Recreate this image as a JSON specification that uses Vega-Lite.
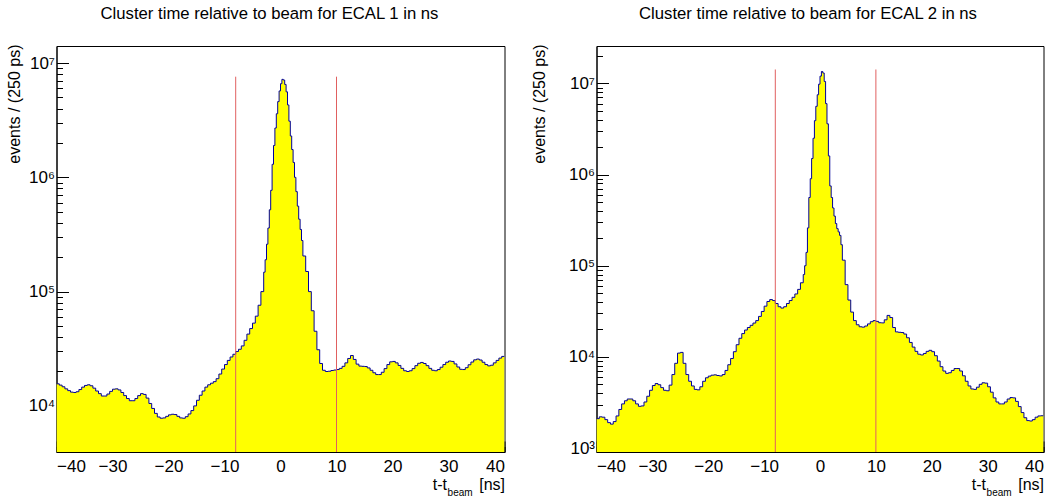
{
  "$schema": "https://vega.github.io/schema/vega-lite/v6.json",
  "background": "white",
  "padding": {"left": 4.5, "top": 5, "right": 2, "bottom": 2},
  "bounds": "flush",
  "spacing": 92,
  "config": {
    "font": "Liberation Sans",
    "view": {"stroke": "#000000", "strokeWidth": 1},
    "axis": {"domainColor": "#000000", "tickColor": "#000000", "labelColor": "#000000", "titleColor": "#000000", "grid": false, "labelFont": "Liberation Sans", "titleFont": "Liberation Sans", "titleFontWeight": "normal", "labelFontSize": 17, "titleFontSize": 16},
    "title": {"font": "Liberation Sans", "fontSize": 16.7, "fontWeight": "normal", "color": "#000000"}
  },
  "datasets": {
    "ecal1": [
      {"t":-40,"n":15600},{"t":-39.5,"n":15200},{"t":-39,"n":14700},{"t":-38.5,"n":14100},{"t":-38,"n":13600},{"t":-37.5,"n":13200},{"t":-37,"n":13100},{"t":-36.5,"n":13300},{"t":-36,"n":13900},{"t":-35.5,"n":14600},{"t":-35,"n":15100},{"t":-34.5,"n":15300},{"t":-34,"n":15000},{"t":-33.5,"n":14300},{"t":-33,"n":13500},{"t":-32.5,"n":12800},{"t":-32,"n":12200},{"t":-31.5,"n":12200},{"t":-31,"n":12700},{"t":-30.5,"n":13400},{"t":-30,"n":14000},{"t":-29.5,"n":14100},{"t":-29,"n":13800},{"t":-28.5,"n":13100},{"t":-28,"n":12300},{"t":-27.5,"n":11600},{"t":-27,"n":11100},{"t":-26.5,"n":11100},{"t":-26,"n":11600},{"t":-25.5,"n":12300},{"t":-25,"n":12800},{"t":-24.5,"n":12600},{"t":-24,"n":11700},{"t":-23.5,"n":10500},{"t":-23,"n":9500},{"t":-22.5,"n":8600},{"t":-22,"n":8000},{"t":-21.5,"n":7800},{"t":-21,"n":7850},{"t":-20.5,"n":8100},{"t":-20,"n":8350},{"t":-19.5,"n":8450},{"t":-19,"n":8400},{"t":-18.5,"n":8100},{"t":-18,"n":7850},{"t":-17.5,"n":7800},{"t":-17,"n":8050},{"t":-16.5,"n":8500},{"t":-16,"n":9100},{"t":-15.5,"n":10000},{"t":-15,"n":11200},{"t":-14.5,"n":12400},{"t":-14,"n":13500},{"t":-13.5,"n":14600},{"t":-13,"n":15300},{"t":-12.5,"n":15800},{"t":-12,"n":16300},{"t":-11.5,"n":17300},{"t":-11,"n":19000},{"t":-10.5,"n":21000},{"t":-10,"n":23000},{"t":-9.5,"n":25000},{"t":-9,"n":26800},{"t":-8.5,"n":28300},{"t":-8,"n":29900},{"t":-7.5,"n":31300},{"t":-7,"n":33500},{"t":-6.5,"n":37500},{"t":-6,"n":42500},{"t":-5.5,"n":47500},{"t":-5,"n":53000},{"t":-4.5,"n":61000},{"t":-4,"n":76000},{"t":-3.5,"n":100000},
      {"t":-3,"n":148000},{"t":-2.75,"n":190000},{"t":-2.5,"n":260000},{"t":-2.25,"n":360000},{"t":-2,"n":520000},{"t":-1.75,"n":770000},{"t":-1.5,"n":1300000},{"t":-1.25,"n":1900000},{"t":-1,"n":2700000},{"t":-0.75,"n":3600000},{"t":-0.5,"n":4600000},{"t":-0.25,"n":5700000},{"t":0,"n":6600000},{"t":0.25,"n":7200000},{"t":0.5,"n":7100000},{"t":0.75,"n":6500000},{"t":1,"n":5600000},{"t":1.25,"n":4300000},{"t":1.5,"n":3100000},{"t":1.75,"n":2300000},{"t":2,"n":1750000},{"t":2.25,"n":1350000},{"t":2.5,"n":1000000},{"t":2.75,"n":750000},{"t":3,"n":560000},{"t":3.25,"n":430000},{"t":3.5,"n":350000},{"t":3.75,"n":280000},
      {"t":4,"n":205000},{"t":4.5,"n":150000},{"t":5,"n":100000},{"t":5.5,"n":68000},{"t":6,"n":45000},{"t":6.5,"n":31000},{"t":7,"n":23500},{"t":7.5,"n":20500},{"t":8,"n":20000},{"t":8.5,"n":20100},{"t":9,"n":20400},{"t":9.5,"n":20600},{"t":10,"n":20800},{"t":10.5,"n":21300},{"t":11,"n":22200},{"t":11.5,"n":23800},{"t":12,"n":26000},{"t":12.5,"n":27600},{"t":13,"n":25500},{"t":13.5,"n":23200},{"t":14,"n":22300},{"t":14.5,"n":22200},{"t":15,"n":22100},{"t":15.5,"n":21500},{"t":16,"n":20500},{"t":16.5,"n":19500},{"t":17,"n":18800},{"t":17.5,"n":18800},{"t":18,"n":19700},{"t":18.5,"n":21200},{"t":19,"n":23000},{"t":19.5,"n":24300},{"t":20,"n":24500},{"t":20.5,"n":23800},{"t":21,"n":22600},{"t":21.5,"n":21300},{"t":22,"n":20300},{"t":22.5,"n":20000},{"t":23,"n":20300},{"t":23.5,"n":21200},{"t":24,"n":22500},{"t":24.5,"n":23600},{"t":25,"n":24000},{"t":25.5,"n":23500},{"t":26,"n":22500},{"t":26.5,"n":21300},{"t":27,"n":20500},{"t":27.5,"n":20300},{"t":28,"n":20800},{"t":28.5,"n":21800},{"t":29,"n":23000},{"t":29.5,"n":24100},{"t":30,"n":24700},{"t":30.5,"n":24500},{"t":31,"n":23300},{"t":31.5,"n":21900},{"t":32,"n":20900},{"t":32.5,"n":20800},{"t":33,"n":21600},{"t":33.5,"n":22900},{"t":34,"n":24200},{"t":34.5,"n":25300},{"t":35,"n":25700},{"t":35.5,"n":25200},{"t":36,"n":24100},{"t":36.5,"n":23000},{"t":37,"n":22400},{"t":37.5,"n":22700},{"t":38,"n":23800},{"t":38.5,"n":25000},{"t":39,"n":26200},{"t":39.5,"n":27100},{"t":40,"n":27100}
    ],
    "ecal2": [
      {"t":-40,"n":2100},{"t":-39.5,"n":2200},{"t":-39,"n":2180},{"t":-38.5,"n":2050},{"t":-38,"n":1900},{"t":-37.5,"n":1830},{"t":-37,"n":1950},{"t":-36.5,"n":2250},{"t":-36,"n":2650},{"t":-35.5,"n":3050},{"t":-35,"n":3300},{"t":-34.5,"n":3450},{"t":-34,"n":3450},{"t":-33.5,"n":3300},{"t":-33,"n":3050},{"t":-32.5,"n":2870},{"t":-32,"n":2900},{"t":-31.5,"n":3200},{"t":-31,"n":3700},{"t":-30.5,"n":4300},{"t":-30,"n":4850},{"t":-29.5,"n":5100},{"t":-29,"n":4950},{"t":-28.5,"n":4600},{"t":-28,"n":4300},{"t":-27.5,"n":4250},{"t":-27,"n":4900},{"t":-26.5,"n":6400},{"t":-26,"n":8500},{"t":-25.5,"n":11000},{"t":-25,"n":11200},{"t":-24.5,"n":8500},{"t":-24,"n":6400},{"t":-23.5,"n":5400},{"t":-23,"n":4800},{"t":-22.5,"n":4400},{"t":-22,"n":4350},{"t":-21.5,"n":4700},{"t":-21,"n":5400},{"t":-20.5,"n":5900},{"t":-20,"n":6150},{"t":-19.5,"n":6300},{"t":-19,"n":6350},{"t":-18.5,"n":6250},{"t":-18,"n":6180},{"t":-17.5,"n":6400},{"t":-17,"n":7100},{"t":-16.5,"n":8200},{"t":-16,"n":9600},{"t":-15.5,"n":11400},{"t":-15,"n":13600},{"t":-14.5,"n":16000},{"t":-14,"n":18000},{"t":-13.5,"n":19700},{"t":-13,"n":21000},{"t":-12.5,"n":22200},{"t":-12,"n":23500},{"t":-11.5,"n":25000},{"t":-11,"n":27800},{"t":-10.5,"n":31500},{"t":-10,"n":36000},{"t":-9.5,"n":40500},{"t":-9,"n":42500},{"t":-8.5,"n":41500},{"t":-8,"n":38500},{"t":-7.5,"n":35500},{"t":-7,"n":34300},{"t":-6.5,"n":35500},{"t":-6,"n":38500},{"t":-5.5,"n":41500},{"t":-5,"n":45000},{"t":-4.5,"n":49000},{"t":-4,"n":55000},{"t":-3.5,"n":65000},
      {"t":-3,"n":80000},{"t":-2.75,"n":100000},{"t":-2.5,"n":140000},{"t":-2.25,"n":260000},{"t":-2,"n":560000},{"t":-1.75,"n":900000},{"t":-1.5,"n":1500000},{"t":-1.25,"n":2500000},{"t":-1,"n":3900000},{"t":-0.75,"n":5600000},{"t":-0.5,"n":7500000},{"t":-0.25,"n":9800000},{"t":0,"n":12000000},{"t":0.25,"n":13500000},{"t":0.5,"n":13000000},{"t":0.75,"n":10500000},{"t":1,"n":6000000},{"t":1.25,"n":3600000},{"t":1.5,"n":1600000},{"t":1.75,"n":750000},{"t":2,"n":560000},{"t":2.25,"n":430000},{"t":2.5,"n":350000},{"t":2.75,"n":290000},{"t":3,"n":255000},{"t":3.25,"n":235000},{"t":3.5,"n":215000},{"t":3.75,"n":170000},
      {"t":4,"n":115000},{"t":4.5,"n":62000},{"t":5,"n":42000},{"t":5.5,"n":31000},{"t":6,"n":25000},{"t":6.5,"n":22500},{"t":7,"n":21400},{"t":7.5,"n":21200},{"t":8,"n":21800},{"t":8.5,"n":23000},{"t":9,"n":24300},{"t":9.5,"n":25000},{"t":10,"n":24500},{"t":10.5,"n":23700},{"t":11,"n":23600},{"t":11.5,"n":25500},{"t":12,"n":28500},{"t":12.5,"n":27000},{"t":13,"n":21000},{"t":13.5,"n":18800},{"t":14,"n":18600},{"t":14.5,"n":18500},{"t":15,"n":17800},{"t":15.5,"n":16200},{"t":16,"n":14400},{"t":16.5,"n":12800},{"t":17,"n":11500},{"t":17.5,"n":10700},{"t":18,"n":10500},{"t":18.5,"n":10900},{"t":19,"n":11500},{"t":19.5,"n":11800},{"t":20,"n":11400},{"t":20.5,"n":10300},{"t":21,"n":9000},{"t":21.5,"n":7800},{"t":22,"n":7000},{"t":22.5,"n":6600},{"t":23,"n":6700},{"t":23.5,"n":7100},{"t":24,"n":7450},{"t":24.5,"n":7450},{"t":25,"n":7000},{"t":25.5,"n":6200},{"t":26,"n":5400},{"t":26.5,"n":4800},{"t":27,"n":4450},{"t":27.5,"n":4400},{"t":28,"n":4650},{"t":28.5,"n":5000},{"t":29,"n":5200},{"t":29.5,"n":5150},{"t":30,"n":4700},{"t":30.5,"n":4100},{"t":31,"n":3550},{"t":31.5,"n":3200},{"t":32,"n":3050},{"t":32.5,"n":3050},{"t":33,"n":3200},{"t":33.5,"n":3450},{"t":34,"n":3580},{"t":34.5,"n":3550},{"t":35,"n":3250},{"t":35.5,"n":2850},{"t":36,"n":2450},{"t":36.5,"n":2150},{"t":37,"n":2000},{"t":37.5,"n":1980},{"t":38,"n":2050},{"t":38.5,"n":2180},{"t":39,"n":2250},{"t":39.5,"n":2260},{"t":40,"n":2260}
    ],
    "cuts1": [{"t":-8,"top":7600000},{"t":10,"top":7600000}],
    "cuts2": [{"t":-8,"top":14200000},{"t":10,"top":14200000}]
  },
  "hconcat": [
    {
      "width": 448, "height": 406,
      "title": {"text": "Cluster time relative to beam for ECAL 1 in ns", "dx": -11, "baseline": "alphabetic", "offset": 8.5},
      "data": {"name": "ecal1"},
      "layer": [
        {
          "mark": {"type": "area", "interpolate": "step-after", "color": "#ffff00", "clip": true},
          "encoding": {
            "x": {"field": "t", "type": "quantitative", "scale": {"domain": [-40, 40], "nice": false, "zero": false},
              "axis": {"orient": "bottom", "values": [-40,-30,-20,-10,0,10,20,30,40], "tickSize": -11, "labelPadding": 17, "labelBaseline": "top", "title": "t-t", "titleX": 390, "titleY": 37, "titleAlign": "right", "titleBaseline": "alphabetic", "titleAngle": 0}},
            "y": {"field": "n", "type": "quantitative", "scale": {"type": "log", "domain": [3950, 14100000], "nice": false},
              "axis": {"orient": "left", "values": [10000, 100000, 1000000, 10000000], "tickSize": -12, "labelPadding": 14, "labelExpr": "'10' + (datum.value == 10000000 ? '\u2077' : datum.value == 1000000 ? '\u2076' : datum.value == 100000 ? '\u2075' : datum.value == 10000 ? '\u2074' : '\u00b3')", "title": "events / (250 ps)", "titleX": -42.5, "titleY": -2, "titleAlign": "right", "titleBaseline": "middle", "titleAngle": -90}},
            "y2": {"datum": 3950}
          }
        },
        {
          "mark": {"type": "line", "interpolate": "step-after", "color": "#00009a", "strokeWidth": 1, "clip": true},
          "encoding": {
            "x": {"field": "t", "type": "quantitative",
              "axis": {"orient": "bottom", "values": [-40,-38,-36,-34,-32,-30,-28,-26,-24,-22,-20,-18,-16,-14,-12,-10,-8,-6,-4,-2,0,2,4,6,8,10,12,14,16,18,20,22,24,26,28,30,32,34,36,38,40], "tickSize": -5.5, "labels": false, "domain": false, "title": "beam", "titleFontSize": 10, "titleX": 415.6, "titleY": 43.5, "titleAlign": "right", "titleBaseline": "alphabetic", "titleAngle": 0}},
            "y": {"field": "n", "type": "quantitative",
              "axis": {"orient": "left", "values": [4000,5000,6000,7000,8000,9000,20000,30000,40000,50000,60000,70000,80000,90000,200000,300000,400000,500000,600000,700000,800000,900000,2000000,3000000,4000000,5000000,6000000,7000000,8000000,9000000], "tickSize": -6, "labels": false, "domain": false, "title": null}}
          }
        },
        {
          "data": {"name": "cuts1"},
          "mark": {"type": "rule", "color": "#e06060", "strokeWidth": 1},
          "encoding": {
            "x": {"field": "t", "type": "quantitative",
              "axis": {"orient": "bottom", "ticks": false, "labels": false, "domain": false, "title": "[ns]", "titleX": 448, "titleY": 37, "titleAlign": "right", "titleBaseline": "alphabetic", "titleAngle": 0}},
            "y": {"field": "top", "type": "quantitative", "axis": null},
            "y2": {"datum": 3950}
          }
        }
      ],
      "resolve": {"axis": {"x": "independent", "y": "independent"}}
    },
    {
      "width": 447, "height": 406,
      "title": {"text": "Cluster time relative to beam for ECAL 2 in ns", "dx": -12, "baseline": "alphabetic", "offset": 8.5},
      "data": {"name": "ecal2"},
      "layer": [
        {
          "mark": {"type": "area", "interpolate": "step-after", "color": "#ffff00", "clip": true},
          "encoding": {
            "x": {"field": "t", "type": "quantitative", "scale": {"domain": [-40, 40], "nice": false, "zero": false},
              "axis": {"orient": "bottom", "values": [-40,-30,-20,-10,0,10,20,30,40], "tickSize": -11, "labelPadding": 17, "labelBaseline": "top", "title": "t-t", "titleX": 389, "titleY": 37, "titleAlign": "right", "titleBaseline": "alphabetic", "titleAngle": 0}},
            "y": {"field": "n", "type": "quantitative", "scale": {"type": "log", "domain": [905, 25700000], "nice": false},
              "axis": {"orient": "left", "values": [1000, 10000, 100000, 1000000, 10000000], "tickSize": -12, "labelPadding": 14, "labelExpr": "'10' + (datum.value == 10000000 ? '\u2077' : datum.value == 1000000 ? '\u2076' : datum.value == 100000 ? '\u2075' : datum.value == 10000 ? '\u2074' : '\u00b3')", "title": "events / (250 ps)", "titleX": -57.5, "titleY": -2, "titleAlign": "right", "titleBaseline": "middle", "titleAngle": -90}},
            "y2": {"datum": 905}
          }
        },
        {
          "mark": {"type": "line", "interpolate": "step-after", "color": "#00009a", "strokeWidth": 1, "clip": true},
          "encoding": {
            "x": {"field": "t", "type": "quantitative",
              "axis": {"orient": "bottom", "values": [-40,-38,-36,-34,-32,-30,-28,-26,-24,-22,-20,-18,-16,-14,-12,-10,-8,-6,-4,-2,0,2,4,6,8,10,12,14,16,18,20,22,24,26,28,30,32,34,36,38,40], "tickSize": -5.5, "labels": false, "domain": false, "title": "beam", "titleFontSize": 10, "titleX": 414.6, "titleY": 43.5, "titleAlign": "right", "titleBaseline": "alphabetic", "titleAngle": 0}},
            "y": {"field": "n", "type": "quantitative",
              "axis": {"orient": "left", "values": [2000,3000,4000,5000,6000,7000,8000,9000,20000,30000,40000,50000,60000,70000,80000,90000,200000,300000,400000,500000,600000,700000,800000,900000,2000000,3000000,4000000,5000000,6000000,7000000,8000000,9000000,20000000], "tickSize": -6, "labels": false, "domain": false, "title": null}}
          }
        },
        {
          "data": {"name": "cuts2"},
          "mark": {"type": "rule", "color": "#e06060", "strokeWidth": 1},
          "encoding": {
            "x": {"field": "t", "type": "quantitative",
              "axis": {"orient": "bottom", "ticks": false, "labels": false, "domain": false, "title": "[ns]", "titleX": 447, "titleY": 37, "titleAlign": "right", "titleBaseline": "alphabetic", "titleAngle": 0}},
            "y": {"field": "top", "type": "quantitative", "axis": null},
            "y2": {"datum": 905}
          }
        }
      ],
      "resolve": {"axis": {"x": "independent", "y": "independent"}}
    }
  ]
}
